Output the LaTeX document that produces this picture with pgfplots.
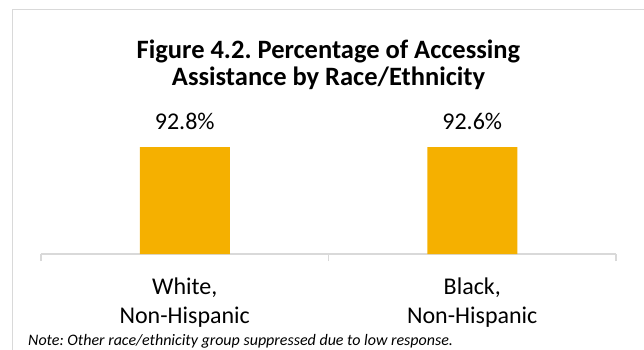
\documentclass[border=0pt]{standalone}
\usepackage{pgfplots}
\pgfplotsset{compat=1.18}
\usepackage{fontspec}
\setmainfont{Carlito}
\definecolor{bargold}{HTML}{F5B000}
\definecolor{axisgray}{HTML}{D9D9D9}
\frenchspacing
\begin{document}
\frenchspacing
\begin{tikzpicture}
\begin{axis}[
  name=ax,
  scale only axis, width=575pt, height=115.3pt,
  xmin=-0.5, xmax=1.5, ymin=0, ymax=100,
  axis x line*=bottom, axis y line=none,
  x axis line style={axisgray, line width=1.5pt, -},
  xtick={-0.5,0.5,1.5}, xticklabels={},
  major tick length=7pt, tick align=outside,
  x tick style={axisgray, line width=1.5pt},
  extra x ticks={0,1},
  extra x tick labels={{White,\\Non-Hispanic},{Black,\\Non-Hispanic}},
  extra x tick style={major tick length=0pt, tick style={draw=none}},
  xticklabel style={font=\fontsize{24}{29}\selectfont, align=center, text=black, yshift=-20pt},
  ybar, bar width=90pt,
  nodes near coords={\pgfmathprintnumber{\pgfplotspointmeta}\%},
  nodes near coords style={font=\fontsize{24}{29}\selectfont, anchor=base, yshift=18pt, text=black},
  /pgf/number format/fixed, /pgf/number format/precision=1,
  /pgf/number format/fixed zerofill, /pgf/number format/assume math mode=true,
  clip=false,
]
\addplot[fill=bargold, draw=none] coordinates {(0,92.8) (1,92.6)};
\end{axis}
\path (ax.south west) ++(-41pt,-95pt) coordinate (O);
\begin{scope}[shift={(O)}, x=1pt, y=1pt]
\draw[axisgray, line width=1.5pt] (12.5,-20) -- (12.5,339.5) -- (700,339.5);
\node[font=\fontsize{26.5}{27}\selectfont\bfseries, align=center] at (328.5,284.5) {Figure 4.2. Percentage of Accessing\\Assistance by Race/Ethnicity};
\node[anchor=base west, inner sep=0pt, font=\fontsize{16}{16}\selectfont\itshape] at (28,4) {Note: Other race/ethnicity group suppressed due to low response.};
\end{scope}
\pgfresetboundingbox
\path[use as bounding box] (O) rectangle ++(644pt,349pt);
\end{tikzpicture}
\end{document}
